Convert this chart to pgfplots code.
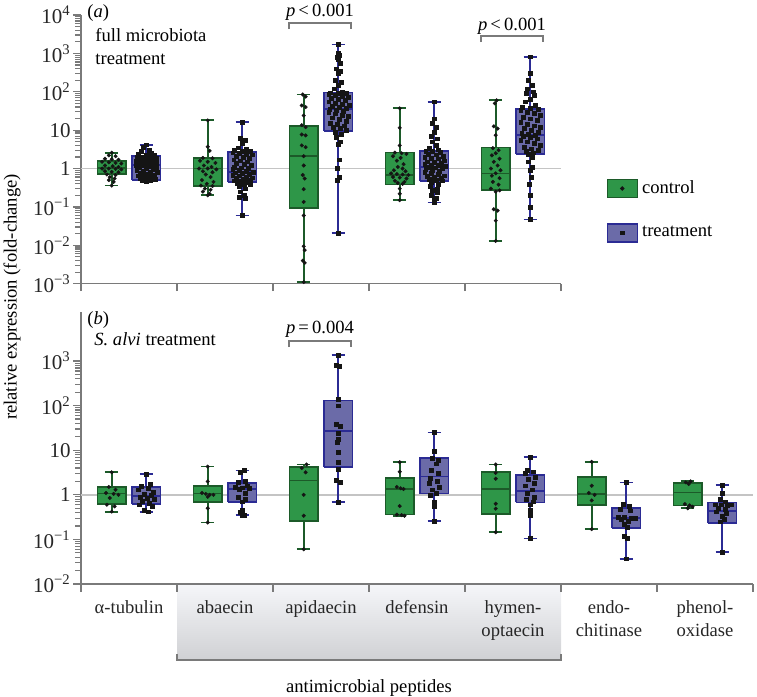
\documentclass[border=0pt]{standalone}
\usepackage{fontspec}
\setmainfont{Liberation Serif}
\usepackage{pgfplots}
\pgfplotsset{compat=1.18}
\definecolor{mgreen}{HTML}{2E9648}
\definecolor{dkgreen}{HTML}{1C5A29}
\definecolor{mblue}{HTML}{6B6BA8}
\definecolor{dkblue}{HTML}{2B2B94}
\definecolor{axgray}{HTML}{7A7A7A}
\definecolor{refgray}{HTML}{C4C4C4}
\definecolor{ptcol}{HTML}{151515}
\definecolor{shtop}{HTML}{F5F6F9}
\definecolor{shbot}{HTML}{D0D1D4}
\pgfplotsset{
  cpts/.style={only marks, mark=*, mark size=0.9pt, color=ptcol, mark options={line width=0.2pt}, forget plot},
  tpts/.style={only marks, mark=square*, mark size=0.95pt, color=ptcol, mark options={line width=0.2pt}, forget plot},
}
% box: #1 position, #2 lower whisker, #3 lower quartile, #4 median, #5 upper quartile, #6 upper whisker, #7 edge colour, #8 fill colour
\newcommand{\bx}[8]{%
  \pgfmathsetmacro\bxl{#1-0.15}\pgfmathsetmacro\bxr{#1+0.15}%
  \pgfmathsetmacro\bcl{#1-0.07}\pgfmathsetmacro\bcr{#1+0.07}%
  \edef\bxtmp{%
    \noexpand\addplot[#7, line width=0.9pt, forget plot] coordinates {(#1,#2) (#1,#6)};
    \noexpand\addplot[#7, line width=0.9pt, forget plot] coordinates {(\bcl,#2) (\bcr,#2)};
    \noexpand\addplot[#7, line width=0.9pt, forget plot] coordinates {(\bcl,#6) (\bcr,#6)};
    \noexpand\addplot[draw=#7, fill=#8, line width=0.8pt, forget plot] coordinates {(\bxl,#3) (\bxr,#3) (\bxr,#5) (\bxl,#5) (\bxl,#3)};
    \noexpand\addplot[#7, line width=0.8pt, forget plot] coordinates {(\bxl,#4) (\bxr,#4)};
  }\bxtmp}
\newcommand{\txt}{\fontsize{9.3}{11.5}\selectfont}
\begin{document}
\txt
\begin{tikzpicture}
\path[use as bounding box] (0pt,0pt) rectangle (378.5pt,-348.5pt);
\begin{scope}[x=0.5pt,y=-0.5pt]
  \shade[top color=shtop, bottom color=shbot] (177,584) rectangle (561,660);
  \draw[axgray, line width=0.6pt] (177,654) -- (177,660) -- (561,660) -- (561,654);
\end{scope}

% ---------------- panel (a) ----------------
\begin{axis}[at={(40.5pt,-141.85pt)}, anchor=south west,
  scale only axis, clip=false, ymode=log,
  axis x line=bottom, axis y line=left, axis line style={-, draw=axgray, line width=0.6pt},
  tick style={draw=axgray, line width=0.6pt}, tick align=outside, major tick length=3.75pt,
  minor ytick={},
  yticklabel style={font=\fontsize{10.5}{12}\selectfont, text=black!85, inner sep=1.2pt},
  width=240pt, height=134.35pt,
  xmin=-0.5, xmax=4.5, ymin=1e-3, ymax=1e4,
  xtick={-0.5,0.5,1.5,2.5,3.5,4.5}, xticklabels={,,,,,,},
  ytick={1e-3,1e-2,1e-1,1,10,100,1000,10000},
  yticklabels={10\textsuperscript{−3},10\textsuperscript{−2},10\textsuperscript{−1},1,10,10\textsuperscript{2},10\textsuperscript{3},10\textsuperscript{4}},
  legend style={draw=none, fill=none, at={(rel axis cs:1.094,0.274)}, anchor=west, inner sep=0pt, row sep=11pt, font=\txt, cells={anchor=west}},
  legend cell align=left]
\addplot[refgray, line width=0.8pt, forget plot] coordinates {(-0.5,1) (4.5,1)};
% boxes: position, lower whisker, lower quartile, median, upper quartile, upper whisker
\bx{-0.18}{0.36}{0.71}{1.02}{1.55}{2.6}{dkgreen}{mgreen}
\bx{0.18}{0.46}{0.5}{1.25}{2.1}{4.2}{dkblue}{mblue}
\bx{0.82}{0.2}{0.35}{1.0}{1.9}{18}{dkgreen}{mgreen}
\bx{1.18}{0.06}{0.44}{0.8}{2.7}{16}{dkblue}{mblue}
\bx{1.82}{0.0011}{0.095}{2.1}{13}{85}{dkgreen}{mgreen}
\bx{2.18}{0.021}{9.5}{35}{95}{1700}{dkblue}{mblue}
\bx{2.82}{0.15}{0.38}{0.68}{2.6}{37}{dkgreen}{mgreen}
\bx{3.18}{0.13}{0.47}{1.1}{2.9}{55}{dkblue}{mblue}
\bx{3.82}{0.013}{0.28}{0.75}{3.5}{60}{dkgreen}{mgreen}
\bx{4.18}{0.047}{2.4}{7.4}{35}{820}{dkblue}{mblue}
% points
\addplot[cpts] table[x expr=\thisrow{d}-0.18, y=v, row sep=\\] {d v\\
0 2.6\\ -0.03 2.2\\ 0.04 2.1\\ -0.07 1.8\\ 0 1.75\\ 0.07 1.7\\ -0.1 1.5\\ -0.03 1.45\\ 0.04 1.4\\ 0.1 1.35\\ -0.07 1.2\\ 0.01 1.15\\ 0.07 1.1\\ -0.1 1.0\\ -0.03 1.0\\ 0.04 0.98\\ 0.1 0.95\\ -0.07 0.85\\ 0 0.82\\ 0.07 0.8\\ -0.05 0.7\\ 0.04 0.68\\ -0.02 0.6\\ 0.03 0.55\\ -0.03 0.5\\ 0.02 0.45\\ 0 0.36\\};
\addplot[tpts] table[x expr=\thisrow{d}+0.18, y=v, row sep=\\] {d v\\
0 4.2\\ -0.03 3.6\\ 0.03 3.0\\ -0.05 2.8\\ 0.05 2.6\\ -0.08 2.4\\ 0 2.3\\ 0.08 2.2\\ -0.1 2.0\\ -0.03 2.0\\ 0.04 1.95\\ 0.1 1.9\\ -0.07 1.8\\ 0 1.75\\ 0.07 1.7\\ -0.11 1.6\\ -0.04 1.55\\ 0.03 1.5\\ 0.1 1.45\\ -0.08 1.4\\ -0.01 1.35\\ 0.06 1.3\\ -0.11 1.25\\ -0.04 1.2\\ 0.03 1.15\\ 0.1 1.1\\ -0.07 1.05\\ 0 1.0\\ 0.07 0.95\\ -0.1 0.9\\ -0.03 0.85\\ 0.04 0.82\\ 0.11 0.8\\ -0.06 0.75\\ 0.01 0.7\\ 0.08 0.68\\ -0.09 0.65\\ -0.02 0.62\\ 0.05 0.6\\ -0.06 0.56\\ 0.02 0.54\\ 0.09 0.52\\ -0.04 0.5\\ 0.04 0.48\\ 0 0.46\\};
\addplot[cpts] table[x expr=\thisrow{d}+0.82, y=v, row sep=\\] {d v\\
0 18\\ 0 3.7\\ 0.02 2.9\\ -0.05 1.9\\ 0.05 1.85\\ -0.08 1.6\\ 0 1.5\\ 0.08 1.4\\ -0.04 1.2\\ 0.04 1.1\\ -0.09 1.0\\ 0 1.0\\ 0.09 0.95\\ -0.05 0.85\\ 0.05 0.8\\ -0.02 0.7\\ 0.03 0.6\\ -0.06 0.5\\ 0.06 0.45\\ -0.01 0.4\\ -0.07 0.36\\ 0.05 0.35\\ -0.03 0.3\\ 0.03 0.28\\ -0.05 0.25\\ 0.02 0.22\\ 0 0.2\\};
\addplot[tpts] table[x expr=\thisrow{d}+1.18, y=v, row sep=\\] {d v\\
0 16\\ -0.02 6.2\\ 0.03 5.5\\ 0 4.5\\ -0.04 3.5\\ 0.04 3.2\\ -0.08 3.0\\ 0 2.9\\ 0.08 2.8\\ -0.1 2.6\\ -0.03 2.5\\ 0.04 2.4\\ 0.1 2.3\\ -0.06 2.1\\ 0.01 2.0\\ 0.07 1.9\\ -0.09 1.7\\ -0.02 1.6\\ 0.05 1.5\\ -0.06 1.4\\ 0.02 1.3\\ 0.09 1.2\\ -0.08 1.1\\ -0.01 1.05\\ 0.06 1.0\\ -0.1 0.95\\ -0.03 0.9\\ 0.04 0.85\\ 0.11 0.8\\ -0.07 0.78\\ 0 0.75\\ 0.07 0.7\\ -0.1 0.68\\ -0.03 0.65\\ 0.04 0.6\\ 0.1 0.58\\ -0.06 0.55\\ 0.01 0.52\\ 0.08 0.5\\ -0.09 0.48\\ -0.02 0.46\\ 0.05 0.44\\ -0.05 0.42\\ 0.02 0.4\\ 0.08 0.38\\ -0.03 0.35\\ 0.03 0.3\\ -0.02 0.25\\ 0.02 0.2\\ -0.03 0.18\\ 0.03 0.17\\ 0 0.06\\};
\addplot[cpts] table[x expr=\thisrow{d}+1.82, y=v, row sep=\\] {d v\\
-0.01 85\\ 0.02 75\\ -0.02 44\\ 0.02 40\\ 0 24\\ -0.02 13.5\\ 0.02 12\\ -0.02 7.7\\ 0.02 7.3\\ -0.02 4\\ 0.02 3.6\\ 0 2.1\\ 0 1.2\\ -0.01 0.68\\ 0.01 0.55\\ 0 0.29\\ 0 0.135\\ 0 0.06\\ 0 0.0094\\ 0.01 0.0075\\ -0.01 0.004\\ 0.01 0.0035\\ 0 0.0011\\};
\addplot[tpts] table[x expr=\thisrow{d}+2.18, y=v, row sep=\\] {d v\\
0 1700\\ 0 1000\\ 0.01 900\\ -0.01 800\\ 0 700\\ 0.02 550\\ -0.02 400\\ 0.02 350\\ 0 300\\ -0.03 200\\ 0.03 180\\ 0 150\\ -0.04 120\\ 0.04 100\\ -0.08 95\\ 0 92\\ 0.08 90\\ -0.1 85\\ -0.03 80\\ 0.04 75\\ 0.1 72\\ -0.07 68\\ 0 65\\ 0.07 60\\ -0.1 55\\ -0.03 50\\ 0.04 47\\ 0.11 45\\ -0.06 42\\ 0.01 40\\ 0.08 38\\ -0.09 35\\ -0.02 33\\ 0.05 31\\ -0.1 29\\ -0.03 27\\ 0.04 25\\ 0.1 23\\ -0.06 21\\ 0.01 19\\ 0.08 17\\ -0.08 15\\ -0.01 14\\ 0.06 13\\ -0.05 12\\ 0.02 11\\ 0.08 10\\ -0.03 9\\ 0.03 8\\ -0.02 6.5\\ 0.02 5\\ 0 4.3\\ 0.01 1.7\\ -0.01 1.0\\ 0.01 0.6\\ -0.01 0.5\\ 0 0.021\\};
\addplot[cpts] table[x expr=\thisrow{d}+2.82, y=v, row sep=\\] {d v\\
0 37\\ 0 11.5\\ 0 4\\ -0.05 2.6\\ 0.02 2.5\\ 0.07 2.4\\ -0.07 2.1\\ 0.01 1.9\\ -0.03 1.6\\ 0.04 1.3\\ -0.02 1.1\\ 0.03 1.0\\ -0.06 0.9\\ 0.06 0.85\\ -0.09 0.75\\ -0.03 0.72\\ 0.03 0.7\\ 0.09 0.68\\ -0.07 0.6\\ 0 0.58\\ 0.07 0.55\\ -0.05 0.48\\ 0.05 0.45\\ -0.02 0.42\\ 0.03 0.4\\ 0 0.3\\ 0 0.22\\ 0 0.15\\};
\addplot[tpts] table[x expr=\thisrow{d}+3.18, y=v, row sep=\\] {d v\\
0 55\\ 0 20\\ -0.02 15\\ 0.02 12\\ 0 9\\ -0.03 7\\ 0.03 6\\ -0.02 5\\ 0.02 4\\ -0.05 3.4\\ 0.04 3.1\\ -0.09 2.9\\ -0.02 2.8\\ 0.06 2.7\\ -0.06 2.4\\ 0.02 2.3\\ 0.09 2.1\\ -0.1 2.0\\ -0.03 1.9\\ 0.04 1.8\\ 0.1 1.6\\ -0.07 1.5\\ 0 1.45\\ 0.07 1.4\\ -0.1 1.3\\ -0.03 1.25\\ 0.04 1.2\\ 0.11 1.15\\ -0.06 1.1\\ 0.01 1.05\\ 0.08 1.0\\ -0.09 0.95\\ -0.02 0.9\\ 0.05 0.85\\ -0.1 0.8\\ -0.03 0.75\\ 0.04 0.7\\ 0.1 0.65\\ -0.07 0.62\\ 0 0.6\\ 0.07 0.55\\ -0.05 0.52\\ 0.02 0.5\\ 0.08 0.48\\ -0.03 0.45\\ 0.04 0.4\\ -0.04 0.35\\ 0.03 0.3\\ -0.02 0.27\\ 0.03 0.24\\ -0.03 0.2\\ 0.02 0.17\\ 0 0.15\\ 0 0.13\\};
\addplot[cpts] table[x expr=\thisrow{d}+3.82, y=v, row sep=\\] {d v\\
0.01 60\\ -0.01 50\\ -0.02 12.6\\ 0.02 11\\ 0 7.4\\ -0.03 3.4\\ 0.03 3.0\\ 0 2.5\\ -0.04 2.2\\ 0.04 1.8\\ -0.02 1.5\\ 0.02 1.2\\ -0.05 1.0\\ 0.05 0.9\\ 0 0.75\\ -0.04 0.65\\ 0.04 0.56\\ -0.03 0.45\\ 0.03 0.38\\ -0.05 0.3\\ 0.04 0.27\\ 0 0.25\\ -0.02 0.087\\ 0.02 0.08\\ 0 0.044\\ 0 0.013\\};
\addplot[tpts] table[x expr=\thisrow{d}+4.18, y=v, row sep=\\] {d v\\
0 820\\ 0 300\\ -0.02 200\\ 0.02 150\\ -0.03 120\\ 0.03 100\\ -0.04 90\\ 0.04 80\\ 0 65\\ -0.05 55\\ 0.05 45\\ -0.08 40\\ 0 37\\ 0.08 35\\ -0.1 33\\ -0.03 30\\ 0.04 28\\ 0.1 25\\ -0.07 22\\ 0 20\\ 0.07 18\\ -0.1 16\\ -0.03 14\\ 0.04 13\\ 0.1 12\\ -0.06 11\\ 0.01 10\\ 0.08 9\\ -0.09 8.5\\ -0.02 8\\ 0.05 7.5\\ -0.07 7\\ 0 6.5\\ 0.07 6\\ -0.1 5.5\\ -0.03 5\\ 0.04 4.5\\ 0.1 4\\ -0.06 3.6\\ 0.01 3.3\\ 0.08 3\\ -0.04 2.8\\ 0.03 2.6\\ -0.02 2.4\\ 0.02 2.0\\ -0.02 1.5\\ 0.02 1.1\\ 0 0.9\\ 0.01 0.6\\ -0.01 0.4\\ 0 0.2\\ 0 0.1\\ 0 0.047\\};
% legend
\addlegendimage{legend image code/.code={\draw[draw=dkgreen, fill=mgreen, line width=0.8pt] (0pt,-4.5pt) rectangle (15pt,4.5pt); \fill[ptcol] (7.5pt,0pt) circle (0.9pt);}}
\addlegendentry{control}
\addlegendimage{legend image code/.code={\draw[draw=dkblue, fill=mblue, line width=0.8pt] (0pt,-4.5pt) rectangle (15pt,4.5pt); \fill[ptcol] (6.55pt,-0.95pt) rectangle (8.45pt,0.95pt);}}
\addlegendentry{treatment}
\end{axis}

% ---------------- panel (b) ----------------
\begin{axis}[at={(40.5pt,-292pt)}, anchor=south west,
  scale only axis, clip=false, ymode=log,
  axis x line=bottom, axis y line=left, axis line style={-, draw=axgray, line width=0.6pt},
  tick style={draw=axgray, line width=0.6pt}, tick align=outside, major tick length=3.75pt,
  minor ytick={},
  yticklabel style={font=\fontsize{10.5}{12}\selectfont, text=black!85, inner sep=1.2pt},
  width=336pt, height=136pt,
  xmin=-0.5, xmax=6.5, ymin=1e-2, ymax=1.26e4,
  xtick={-0.5,0.5,1.5,2.5,3.5,4.5,5.5,6.5}, xticklabels={,,,,,,,,},
  extra x ticks={0,1,2,3,4,5,6},
  extra x tick labels={α-tubulin,abaecin,apidaecin,defensin,{hymen-\\optaecin},{endo-\\chitinase},{phenol-\\oxidase}},
  extra x tick style={major tick length=0pt, tick label style={align=center, anchor=north, font=\txt, text=black!85, yshift=-5pt}},
  ytick={1e-2,1e-1,1,10,100,1000},
  yticklabels={10\textsuperscript{−2},10\textsuperscript{−1},1,10,10\textsuperscript{2},10\textsuperscript{3}}]
\addplot[refgray, line width=0.8pt, forget plot] coordinates {(-0.5,1) (6.5,1)};
\bx{-0.18}{0.42}{0.62}{1.07}{1.48}{3.2}{dkgreen}{mgreen}
\bx{0.18}{0.42}{0.62}{0.93}{1.5}{2.9}{dkblue}{mblue}
\bx{0.82}{0.24}{0.7}{1.07}{1.6}{4.3}{dkgreen}{mgreen}
\bx{1.18}{0.35}{0.69}{1.35}{1.85}{3.5}{dkblue}{mblue}
\bx{1.82}{0.06}{0.26}{2.1}{4.2}{4.8}{dkgreen}{mgreen}
\bx{2.18}{0.69}{4.2}{27}{130}{1350}{dkblue}{mblue}
\bx{2.82}{0.34}{0.36}{1.35}{2.4}{5.4}{dkgreen}{mgreen}
\bx{3.18}{0.26}{1.07}{2.6}{6.8}{25}{dkblue}{mblue}
\bx{3.82}{0.145}{0.37}{1.35}{3.3}{4.8}{dkgreen}{mgreen}
\bx{4.18}{0.105}{0.68}{1.23}{2.75}{7}{dkblue}{mblue}
\bx{4.82}{0.17}{0.59}{1.05}{2.5}{5.5}{dkgreen}{mgreen}
\bx{5.18}{0.037}{0.18}{0.3}{0.51}{1.9}{dkblue}{mblue}
\bx{5.82}{0.5}{0.58}{1.12}{1.82}{2.04}{dkgreen}{mgreen}
\bx{6.18}{0.052}{0.23}{0.43}{0.68}{1.65}{dkblue}{mblue}
% points
\addplot[cpts] table[x expr=\thisrow{d}-0.18, y=v, row sep=\\] {d v\\
0 3.2\\ -0.03 1.5\\ 0.04 1.3\\ -0.06 1.1\\ 0.02 1.05\\ 0.07 1.0\\ -0.02 0.85\\ -0.05 0.6\\ 0.03 0.55\\ 0 0.42\\};
\addplot[tpts] table[x expr=\thisrow{d}+0.18, y=v, row sep=\\] {d v\\
0 2.9\\ 0.04 1.7\\ -0.05 1.55\\ 0.02 1.4\\ -0.08 1.3\\ 0.07 1.15\\ -0.02 1.05\\ 0.05 1.0\\ -0.06 0.9\\ 0.01 0.85\\ 0.08 0.8\\ -0.04 0.72\\ 0.03 0.65\\ -0.07 0.6\\ 0.06 0.55\\ -0.02 0.45\\ 0.02 0.42\\};
\addplot[cpts] table[x expr=\thisrow{d}+0.82, y=v, row sep=\\] {d v\\
0 4.3\\ 0 2.0\\ -0.06 1.1\\ -0.02 1.05\\ 0.02 1.0\\ 0.06 1.0\\ 0 0.9\\ 0 0.5\\ 0 0.24\\};
\addplot[tpts] table[x expr=\thisrow{d}+1.18, y=v, row sep=\\] {d v\\
0.02 3.5\\ -0.02 3.2\\ 0.03 2.0\\ -0.04 1.9\\ 0.05 1.6\\ -0.07 1.5\\ 0 1.45\\ 0.07 1.4\\ -0.03 1.35\\ 0.03 1.1\\ -0.04 0.9\\ 0.03 0.8\\ 0 0.7\\ 0 0.45\\ -0.02 0.4\\ 0.02 0.35\\ 0 0.34\\};
\addplot[cpts] table[x expr=\thisrow{d}+1.82, y=v, row sep=\\] {d v\\
0.03 4.8\\ -0.02 4.0\\ 0.02 3.2\\ 0 1.0\\ 0 0.34\\ 0 0.06\\};
\addplot[tpts] table[x expr=\thisrow{d}+2.18, y=v, row sep=\\] {d v\\
0 1350\\ -0.02 800\\ 0.01 780\\ 0 140\\ 0 100\\ -0.02 38\\ 0.02 34\\ 0 24\\ 0 18\\ -0.01 15\\ 0 9\\ 0 5.5\\ 0 3.8\\ -0.02 2.1\\ 0.02 1.9\\ 0 0.69\\};
\addplot[cpts] table[x expr=\thisrow{d}+2.82, y=v, row sep=\\] {d v\\
0 5.4\\ 0 3.3\\ -0.03 1.5\\ 0.01 1.4\\ 0.04 1.35\\ 0 0.56\\ -0.03 0.36\\ 0.02 0.35\\ 0.05 0.34\\};
\addplot[tpts] table[x expr=\thisrow{d}+3.18, y=v, row sep=\\] {d v\\
0 25\\ 0 9.5\\ -0.02 6.5\\ 0.04 6\\ 0.02 5\\ -0.03 3.5\\ 0.04 3\\ -0.04 2.4\\ 0.03 2.0\\ -0.05 1.8\\ 0.05 1.5\\ -0.02 1.3\\ 0.02 1.1\\ -0.04 1.0\\ 0 0.7\\ 0 0.55\\ 0 0.26\\};
\addplot[cpts] table[x expr=\thisrow{d}+3.82, y=v, row sep=\\] {d v\\
0 4.8\\ 0 3.1\\ 0 2.3\\ 0 0.63\\ 0 0.49\\ 0 0.145\\};
\addplot[tpts] table[x expr=\thisrow{d}+4.18, y=v, row sep=\\] {d v\\
0 7\\ -0.03 3.5\\ 0.03 3.3\\ -0.05 3.0\\ 0.05 2.5\\ -0.02 2.2\\ 0.04 1.8\\ -0.05 1.6\\ 0.02 1.3\\ -0.03 1.1\\ 0.04 0.9\\ -0.04 0.8\\ 0.03 0.7\\ 0 0.6\\ 0 0.45\\ 0 0.35\\ 0 0.105\\};
\addplot[cpts] table[x expr=\thisrow{d}+4.82, y=v, row sep=\\] {d v\\
0 5.5\\ 0 1.6\\ -0.03 1.1\\ 0.03 1.0\\ 0 0.75\\ 0 0.17\\};
\addplot[tpts] table[x expr=\thisrow{d}+5.18, y=v, row sep=\\] {d v\\
0 1.9\\ -0.03 0.62\\ 0.03 0.55\\ -0.06 0.47\\ 0.04 0.44\\ -0.08 0.32\\ -0.02 0.31\\ 0.05 0.3\\ 0.09 0.3\\ -0.05 0.28\\ 0.02 0.26\\ -0.02 0.22\\ 0.01 0.19\\ -0.02 0.12\\ 0.01 0.105\\ 0 0.037\\};
\addplot[cpts] table[x expr=\thisrow{d}+5.82, y=v, row sep=\\] {d v\\
0.03 2.0\\ -0.02 1.9\\ 0.01 1.75\\ -0.03 0.62\\ 0.02 0.58\\ 0.05 0.54\\ 0 0.5\\};
\addplot[tpts] table[x expr=\thisrow{d}+6.18, y=v, row sep=\\] {d v\\
0 1.65\\ 0 1.1\\ -0.02 0.8\\ 0.03 0.7\\ -0.07 0.6\\ -0.01 0.6\\ 0.05 0.58\\ 0.09 0.6\\ -0.04 0.5\\ 0.03 0.47\\ -0.06 0.42\\ 0.04 0.38\\ 0 0.33\\ 0.02 0.28\\ -0.02 0.25\\ 0 0.052\\};
\end{axis}

% ---------------- annotations ----------------
\begin{scope}[x=0.5pt,y=-0.5pt]
  \node[anchor=west, inner sep=0pt] at (87,13) {(\textit{a})};
  \node[anchor=base west, inner sep=0pt] at (95,41) {full microbiota};
  \node[anchor=base west, inner sep=0pt] at (95,64) {treatment};
  \node[anchor=west, inner sep=0pt] at (87,320) {(\textit{b})};
  \node[anchor=base west, inner sep=0pt] at (94,345) {\textit{S. alvi} treatment};
  \draw[axgray, line width=0.6pt] (289,29) -- (289,23) -- (351,23) -- (351,29);
  \node[anchor=base, inner sep=0pt] at (320,16) {\textit{p}\,<\,0.001};
  \draw[axgray, line width=0.6pt] (481,42) -- (481,36) -- (543,36) -- (543,42);
  \node[anchor=base, inner sep=0pt] at (512,30) {\textit{p}\,<\,0.001};
  \draw[axgray, line width=0.6pt] (289,347) -- (289,341) -- (351,341) -- (351,347);
  \node[anchor=base, inner sep=0pt] at (320,333) {\textit{p}\,=\,0.004};
  \node[rotate=90, inner sep=0pt] at (12,297) {relative expression (fold-change)};
  \node[inner sep=0pt] at (369,688) {antimicrobial peptides};
\end{scope}
\end{tikzpicture}
\end{document}
